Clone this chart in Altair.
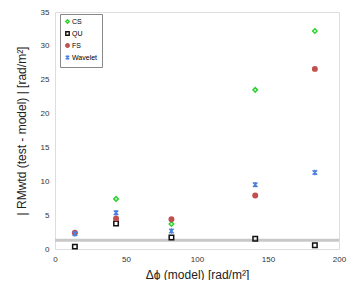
import altair as alt
import pandas as pd

x_vals = [14, 43, 82, 141, 183]
cs = [2.35, 7.4, 3.7, 23.5, 32.2]
qu = [0.35, 3.75, 1.7, 1.5, 0.55]
fs = [2.4, 4.5, 4.4, 7.9, 26.6]
wavelet = [2.25, 5.35, 2.65, 9.5, 11.3]
threshold = [1.3]
x_ticks = [0, 50, 100, 150, 200]
y_ticks = [0, 5, 10, 15, 20, 25, 30, 35]

series = ["CS", "QU", "FS", "Wavelet"]
rows = []
for name, vals in zip(series, [cs, qu, fs, wavelet]):
    for xv, yv in zip(x_vals, vals):
        rows.append({"x": xv, "y": yv, "method": name})
df = pd.DataFrame(rows)

star = "M-1,-1L1,1M-1,1L1,-1M0,-1.2L0,1.2"
shapes = ["diamond", "square", "circle", star]
strokes = ["#2fd12f", "#111111", "#c0504d", "#4a7fe0"]
fills = ["transparent", "transparent", "#c0504d", "transparent"]

xscale = alt.Scale(domain=[0, 200], nice=False)
yscale = alt.Scale(domain=[0, 35], nice=False)

axis_common = dict(labelFontSize=8, labelColor="#333333", domain=False, ticks=False,
                   grid=False, titleFontWeight="normal", titleColor="#222222",
                   titleFont="Liberation Sans", labelFont="Liberation Sans",
                   labelOverlap=False, labelFlush=False, labelBound=False)

yaxis = alt.Axis(title="| RMwtd (test - model) | [rad/m²]", values=y_ticks, tickCount=8,
                 titleFontSize=12, titlePadding=12, labelPadding=6, **axis_common)
xaxis = alt.Axis(title="Δϕ (model) [rad/m²]", values=x_ticks,
                 titleFontSize=12, titlePadding=6, labelPadding=6, **axis_common)

rule = alt.Chart(pd.DataFrame({"y": threshold})).mark_rule(
    color="#c8c8c8", strokeWidth=3
).encode(y=alt.Y("y:Q", scale=yscale, axis=yaxis))

points = alt.Chart(df).mark_point(size=20, strokeWidth=1.5, opacity=1).encode(
    x=alt.X("x:Q", scale=xscale, axis=xaxis),
    y=alt.Y("y:Q", scale=yscale, axis=yaxis),
    shape=alt.Shape("method:N", scale=alt.Scale(domain=series, range=shapes),
                    legend=alt.Legend(title=None, orient="none", legendX=5, legendY=2,
                                      labelFontSize=7, labelFont="Liberation Sans",
                                      symbolSize=12, symbolStrokeWidth=1.4, rowPadding=1,
                                      labelOffset=1, padding=4, strokeColor="#888888",
                                      fillColor="white")),
    stroke=alt.Stroke("method:N", scale=alt.Scale(domain=series, range=strokes), legend=None),
    fill=alt.Fill("method:N", scale=alt.Scale(domain=series, range=fills), legend=None),
)

chart = alt.layer(rule, points).properties(
    width=284, height=237,
    autosize=alt.AutoSizeParams(type="none"),
    padding={"left": 47, "top": 4, "right": 8, "bottom": 31},
).configure_view(stroke="#999999", strokeWidth=1).configure(background="white")

chart.save("out.html", embed_options={"renderer": "svg", "actions": False})
